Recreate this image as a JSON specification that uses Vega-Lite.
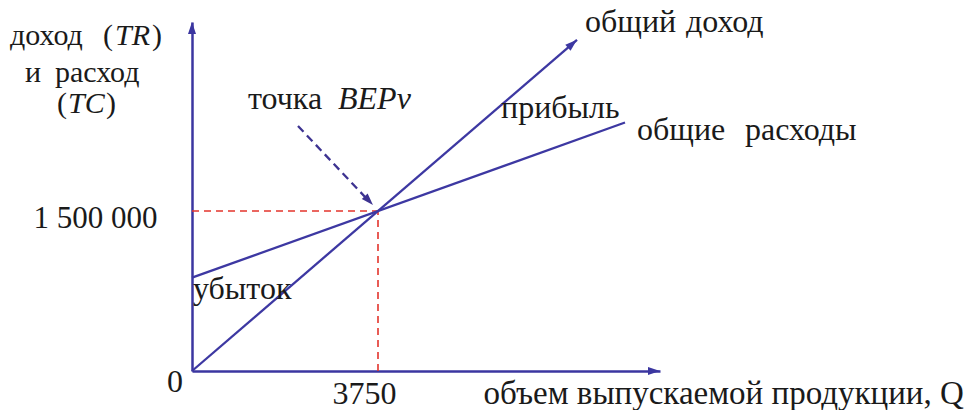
{
  "$schema": "https://vega.github.io/schema/vega-lite/v6.json",
  "autosize": {"type": "none"},
  "width": 468,
  "height": 349,
  "padding": {"left": 192, "top": 22, "right": 312, "bottom": 39},
  "background": "white",
  "config": {"view": {"stroke": null}, "font": "Liberation Serif"},
  "encoding": {
    "x": {
      "field": "Q",
      "type": "quantitative",
      "scale": {"domain": [0, 9435.5], "nice": false, "zero": false},
      "axis": {
        "values": [3750],
        "format": "d",
        "grid": false,
        "ticks": false,
        "tickSize": 0,
        "domainColor": "#3b36a0",
        "domainWidth": 2.5,
        "labelFont": "Liberation Serif",
        "labelFontSize": 32,
        "labelColor": "#1a1a1a",
        "labelBaseline": "alphabetic",
        "labelPadding": 32,
        "labelOffset": -14,
        "labelFlush": false,
        "title": "объем  выпускаемой  продукции, Q",
        "titleX": 291,
        "titleY": 32,
        "titleAlign": "left",
        "titleBaseline": "alphabetic",
        "titleFont": "Liberation Serif",
        "titleFontSize": 33,
        "titleFontWeight": "normal",
        "titleColor": "#1a1a1a"
      }
    },
    "y": {
      "field": "value",
      "type": "quantitative",
      "scale": {"domain": [0, 3271875], "nice": false, "zero": false},
      "axis": {
        "values": [1500000],
        "labelExpr": "replace(replace(format(datum.value, ','), ',', ' '), ',', ' ')",
        "grid": false,
        "ticks": false,
        "tickSize": 0,
        "domainColor": "#3b36a0",
        "domainWidth": 2.5,
        "labelFont": "Liberation Serif",
        "labelFontSize": 31,
        "labelColor": "#1a1a1a",
        "labelBaseline": "alphabetic",
        "labelPadding": 35,
        "labelOffset": 16,
        "labelFlush": false,
        "title": null
      }
    }
  },
  "layer": [
    {
      "data": {"values": [
        {"Q": 0, "Q2": 3750, "value": 1500000, "value2": 1500000},
        {"Q": 3750, "Q2": 3750, "value": 0, "value2": 1500000}
      ]},
      "mark": {"type": "rule", "color": "#e3342c", "strokeWidth": 1.6, "strokeDash": [7, 5]},
      "encoding": {"x2": {"field": "Q2"}, "y2": {"field": "value2"}}
    },
    {
      "data": {"values": [
        {"series": "TR", "Q": 0, "value": 0},
        {"series": "TR", "Q": 7762, "value": 3104800},
        {"series": "TC", "Q": 0, "value": 875000},
        {"series": "TC", "Q": 8730, "value": 2330000}
      ]},
      "mark": {"type": "line", "color": "#3d38a2", "strokeWidth": 2.3},
      "encoding": {"detail": {"field": "series"}}
    },
    {
      "data": {"values": [
        {"Q": 2137, "Q2": 3528, "value": 2296875, "value2": 1612500}
      ]},
      "mark": {"type": "rule", "color": "#3d3391", "strokeWidth": 2.3, "strokeDash": [8, 5]},
      "encoding": {"x2": {"field": "Q2"}, "y2": {"field": "value2"}}
    },
    {
      "data": {"values": [{"Q": 9435.5, "value": 0}]},
      "mark": {"type": "point", "shape": "M0,0L-0.4,1.2L0.4,1.2Z", "size": 400, "filled": true, "opacity": 1, "color": "#3b36a0", "angle": 90},
      "encoding": {}
    },
    {
      "data": {"values": [{"Q": 0, "value": 3271875}]},
      "mark": {"type": "point", "shape": "M0,0L-0.4,1.2L0.4,1.2Z", "size": 400, "filled": true, "opacity": 1, "color": "#3b36a0", "angle": 0},
      "encoding": {}
    },
    {
      "data": {"values": [{"Q": 7762, "value": 3104800}]},
      "mark": {"type": "point", "shape": "M0,0L-0.4,1.2L0.4,1.2Z", "size": 400, "filled": true, "opacity": 1, "color": "#3d38a2", "angle": 49},
      "encoding": {}
    },
    {
      "data": {"values": [{"Q": 3649, "value": 1556250}]},
      "mark": {"type": "point", "shape": "M0,0L-0.4,1.2L0.4,1.2Z", "size": 400, "filled": true, "opacity": 1, "color": "#3d3391", "angle": 136.5},
      "encoding": {}
    },
    {
      "data": {"values": [
        {"label": "доход", "Q": -3669, "value": 3056250},
        {"label": "(", "Q": -1794, "value": 3056250},
        {"label": ")", "Q": -806, "value": 3056250},
        {"label": "и", "Q": -3367, "value": 2709375},
        {"label": "расход", "Q": -2762, "value": 2709375},
        {"label": "(", "Q": -2722, "value": 2418750},
        {"label": ")", "Q": -1734, "value": 2418750}
      ]},
      "mark": {"type": "text", "align": "left", "baseline": "alphabetic", "font": "Liberation Serif", "fontSize": 30, "color": "#1a1a1a"},
      "encoding": {"text": {"field": "label"}}
    },
    {
      "data": {"values": [
        {"label": "TR", "Q": -1552, "value": 3056250},
        {"label": "TC", "Q": -2500, "value": 2418750}
      ]},
      "mark": {"type": "text", "align": "left", "baseline": "alphabetic", "font": "Liberation Serif", "fontStyle": "italic", "fontSize": 30, "color": "#1a1a1a"},
      "encoding": {"text": {"field": "label"}}
    },
    {
      "data": {"values": [
        {"label": "точка", "Q": 1129, "value": 2456250},
        {"label": "прибыль", "Q": 6230, "value": 2371875},
        {"label": "общий", "Q": 7923, "value": 3178125},
        {"label": "доход", "Q": 9960, "value": 3178125},
        {"label": "общие", "Q": 8972, "value": 2165625},
        {"label": "расходы", "Q": 11149, "value": 2165625},
        {"label": "убыток", "Q": 20, "value": 675000},
        {"label": "0", "Q": -504, "value": -196875}
      ]},
      "mark": {"type": "text", "align": "left", "baseline": "alphabetic", "font": "Liberation Serif", "fontSize": 32, "color": "#1a1a1a"},
      "encoding": {"text": {"field": "label"}}
    },
    {
      "data": {"values": [
        {"label": "BEPv", "Q": 2944, "value": 2456250}
      ]},
      "mark": {"type": "text", "align": "left", "baseline": "alphabetic", "font": "Liberation Serif", "fontStyle": "italic", "fontSize": 32, "color": "#1a1a1a"},
      "encoding": {"text": {"field": "label"}}
    }
  ]
}
